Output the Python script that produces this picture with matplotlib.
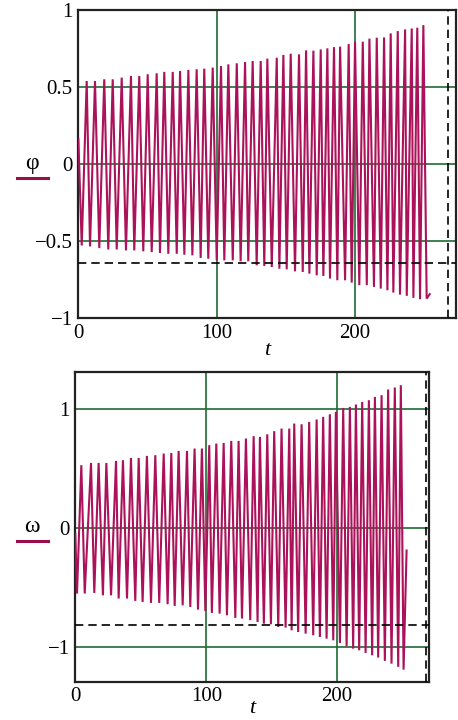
import matplotlib
matplotlib.use("Agg")
import matplotlib.pyplot as plt
from matplotlib.lines import Line2D

# ---------------- data ----------------
# phi(t): start, troughs, peaks, end
phi_start = (0.0, 0.16)
phi_end = (254.0, -0.845)
phi_trough_t = [2.4, 8.4, 15.1, 21.6, 27.7, 34.4, 40.4, 46.9, 53.0, 59.0, 65.0, 71.1,
                76.6, 82.4, 88.4, 93.9, 100.0, 105.5, 111.6, 117.3, 122.8, 128.9, 134.4,
                139.8, 145.3, 150.6, 156.6, 162.2, 167.0, 172.3, 177.1, 181.9, 187.2,
                192.8, 197.6, 203.1, 208.5, 213.7, 218.6, 223.4, 227.7, 232.5, 237.4,
                242.2, 247.0, 251.8]
phi_trough_v = [-0.529, -0.535, -0.546, -0.555, -0.555, -0.561, -0.561, -0.567, -0.572,
                -0.578, -0.583, -0.583, -0.589, -0.593, -0.610, -0.615, -0.626, -0.626,
                -0.626, -0.632, -0.632, -0.658, -0.662,
                -0.669, -0.680, -0.684, -0.697, -0.701, -0.712, -0.723, -0.727, -0.744,
                -0.755, -0.755, -0.770, -0.787, -0.787, -0.798, -0.809, -0.820, -0.835,
                -0.848, -0.856, -0.869, -0.878, -0.874]
phi_peak_t = [6.0, 12.0, 18.7, 24.8, 31.3, 38.0, 44.0, 50.1, 56.6, 62.1, 68.2, 73.5,
              79.5, 85.5, 91.0, 97.1, 103.1, 108.4, 114.5, 120.5, 126.0, 131.8,
              136.6, 143.4, 148.2, 153.5, 159.5, 164.6, 169.9, 175.2, 180.0, 184.8,
              189.2, 195.4, 200.0, 205.6, 210.4, 215.7, 221.0, 225.8, 230.9, 236.2,
              241.0, 245.0, 249.4]
phi_peak_v = [0.539, 0.539, 0.550, 0.550, 0.561, 0.572, 0.572, 0.583, 0.589, 0.598,
              0.598, 0.604, 0.611, 0.615, 0.619, 0.626, 0.636, 0.647, 0.654, 0.662,
              0.669, 0.669,
              0.684, 0.690, 0.708, 0.716, 0.712, 0.738, 0.736, 0.744, 0.751, 0.759,
              0.762, 0.779, 0.794, 0.794, 0.814, 0.820, 0.822, 0.848, 0.863, 0.874,
              0.880, 0.885, 0.902]
phi_hline = -0.64
phi_vline = 267.0

# omega(t)
om_start = (0.0, -0.05)
om_end = (253.0, -0.19)
om_trough_t = [1.3, 7.2, 14.5, 21.1, 27.3, 33.1, 39.5, 45.8, 51.4, 57.8, 64.1, 70.5,
               75.9, 82.0, 87.8, 93.7, 99.3, 104.3, 110.2, 115.8, 122.2, 127.3, 133.6,
               139.2, 144.0, 149.4, 155.0, 160.6, 165.2, 170.2, 175.9, 181.7, 186.8,
               191.9, 197.0, 202.1, 207.2, 212.2, 216.8, 221.7, 226.7, 231.3, 236.4,
               241.5, 246.6, 250.7]
om_trough_v = [-0.551, -0.551, -0.546, -0.566, -0.566, -0.593, -0.593, -0.613, -0.622,
               -0.630, -0.630, -0.641, -0.655, -0.650, -0.664, -0.686, -0.697, -0.714,
               -0.720, -0.734, -0.756, -0.761, -0.775, -0.790,
               -0.804, -0.809, -0.832, -0.837, -0.860, -0.874, -0.888, -0.902, -0.916,
               -0.930, -0.944, -0.966, -0.994, -1.014, -1.028, -1.050, -1.070, -1.089,
               -1.117, -1.140, -1.167, -1.190]
om_peak_t = [4.6, 12.0, 17.8, 23.7, 31.1, 36.4, 42.5, 48.4, 54.7, 61.1, 67.5, 73.3,
             78.9, 85.3, 91.1, 96.7, 102.3, 107.7, 113.3, 119.1, 124.7, 130.3, 136.2,
             141.0, 146.6, 151.9, 157.5, 163.4, 167.2, 172.8, 178.6, 184.3, 189.3,
             194.4, 199.0, 204.6, 209.7, 214.3, 219.1, 224.2, 228.8, 233.9, 238.9,
             244.0, 248.6]
om_peak_v = [0.527, 0.546, 0.546, 0.546, 0.563, 0.569, 0.588, 0.588, 0.605, 0.611,
             0.625, 0.630, 0.647, 0.647, 0.667, 0.667, 0.695, 0.709, 0.714, 0.731,
             0.731, 0.751, 0.771,
             0.765, 0.787, 0.813, 0.835, 0.835, 0.877, 0.871, 0.891, 0.911, 0.933,
             0.955, 0.975, 1.008, 1.017, 1.037, 1.059, 1.073, 1.101, 1.115, 1.163,
             1.180, 1.199]
om_hline = -0.818
om_vline = 267.5

phi_yticks = [-1, -0.5, 0, 0.5, 1]
phi_yticklabels = ["\u22121", "\u22120.5", "0", "0.5", "1"]
om_yticks = [-1, 0, 1]
om_yticklabels = ["\u22121", "0", "1"]
xticks = [0, 100, 200]
xticklabels = ["0", "100", "200"]


def zigzag(start, tt, tv, pt, pv, end):
    t = [start[0]]
    v = [start[1]]
    for i in range(len(tt)):
        t.append(tt[i]); v.append(tv[i])
        if i < len(pt):
            t.append(pt[i]); v.append(pv[i])
    t.append(end[0]); v.append(end[1])
    return t, v


LINE = "#ab1259"
GRID = "#1f6b35"
SERIF = ["Liberation Serif", "DejaVu Serif"]

W, H = 458, 720
fig = plt.figure(figsize=(W / 100, H / 100), dpi=100)


def make_axes(rect, xlim, ylim, yticks, yticklabels, ygrid, t, v, hl, vl, lpad):
    ax = fig.add_axes(rect)
    ax.set_xlim(*xlim)
    ax.set_ylim(*ylim)
    for g in ygrid:
        ax.axhline(g, color=GRID, lw=1.2, zorder=1)
    for g in [100, 200]:
        ax.axvline(g, color=GRID, lw=1.2, zorder=1)
    ax.plot(t, v, color=LINE, lw=1.5, zorder=3, solid_joinstyle="miter")
    ax.axhline(hl, color="black", lw=1.2, ls=(0, (5, 3)), zorder=4)
    ax.axvline(vl, color="black", lw=1.2, ls=(0, (5, 3)), zorder=4)
    ax.set_xticks(xticks)
    ax.set_xticklabels(xticklabels, fontfamily=SERIF, fontsize=15)
    ax.set_yticks(yticks)
    ax.set_yticklabels(yticklabels, fontfamily=SERIF, fontsize=15)
    ax.tick_params(length=0, pad=4)
    for s in ax.spines.values():
        s.set_linewidth(1.6)
        s.set_color("#222222")
    ax.set_xlabel("t", fontfamily=SERIF, fontstyle="italic", fontsize=16, labelpad=lpad)
    return ax


pt, pv = zigzag(phi_start, phi_trough_t, phi_trough_v, phi_peak_t, phi_peak_v, phi_end)
ax1 = make_axes([78.4 / W, 1 - 318 / H, (456 - 78.4) / W, (318 - 10) / H],
                (0, 273), (-1, 1), phi_yticks, phi_yticklabels, [-0.5, 0, 0.5],
                pt, pv, phi_hline, phi_vline, -1)

ot, ov = zigzag(om_start, om_trough_t, om_trough_v, om_peak_t, om_peak_v, om_end)
ax2 = make_axes([75.3 / W, 1 - 681.5 / H, (429.5 - 75.3) / W, (681.5 - 372) / H],
                (0, 270.5), (-1.29, 1.31), om_yticks, om_yticklabels, [-1, 0, 1],
                ot, ov, om_hline, om_vline, -5)

# legend-like labels
fig.text(32 / W, 1 - 163 / H, "\u03c6", fontfamily=SERIF, fontsize=17,
         ha="center", va="center")
fig.add_artist(Line2D([17 / W, 48 / W], [1 - 178 / H, 1 - 178 / H], color="#9a0f4a", lw=2.2))
fig.text(32 / W, 1 - 527 / H, "\u03c9", fontfamily=SERIF, fontsize=17,
         ha="center", va="center")
fig.add_artist(Line2D([17 / W, 48 / W], [1 - 541 / H, 1 - 541 / H], color="#9a0f4a", lw=2.2))

fig.savefig("out.png", dpi=100)
